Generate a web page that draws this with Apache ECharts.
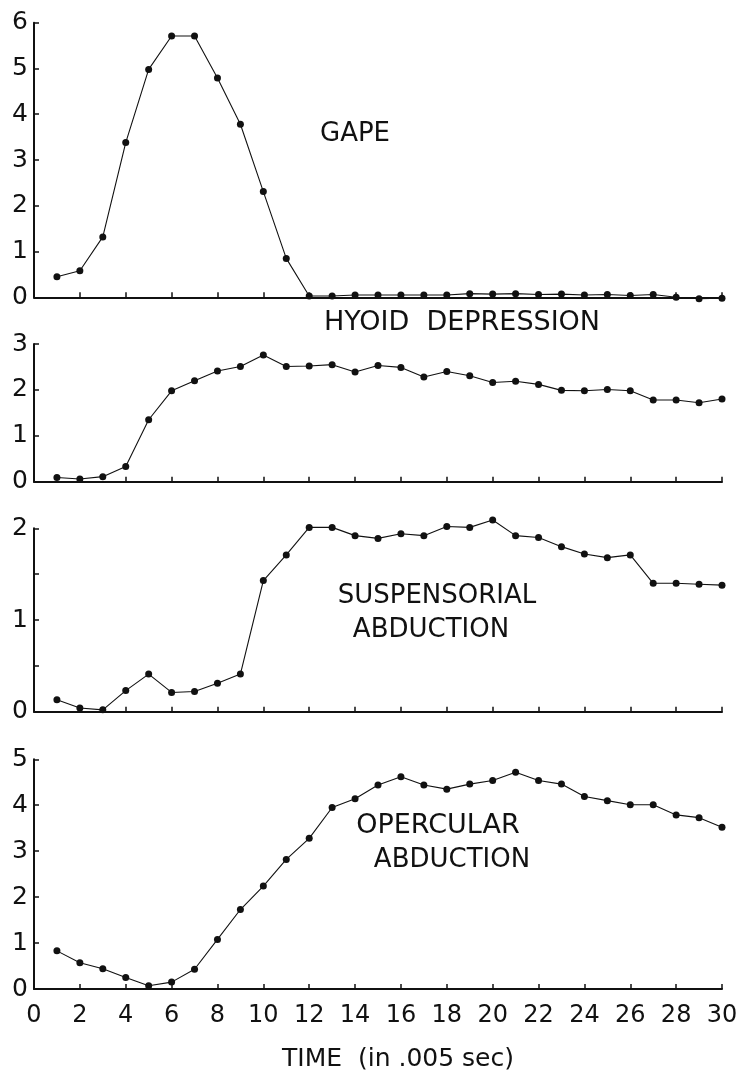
<!DOCTYPE html>
<html>
<head>
<meta charset="utf-8">
<script src="https://cdn.jsdelivr.net/npm/echarts@6/dist/echarts.min.js"></script>
<style>
html,body{margin:0;padding:0;background:#fff;}
#chart{width:745px;height:1075px;}
</style>
</head>
<body>
<div id="chart"></div>
<script>
// ---- data ----
var time = [1,2,3,4,5,6,7,8,9,10,11,12,13,14,15,16,17,18,19,20,21,22,23,24,25,26,27,28,29,30];
var gape = [0.45,0.58,1.32,3.38,4.98,5.71,5.71,4.79,3.78,2.31,0.85,0.03,0.03,0.05,0.05,0.05,0.05,0.05,0.08,0.07,0.08,0.06,0.07,0.05,0.06,0.04,0.06,0.0,-0.03,-0.02];
var hyoidDepression = [0.09,0.06,0.11,0.33,1.35,1.98,2.2,2.41,2.51,2.76,2.51,2.52,2.55,2.39,2.53,2.49,2.28,2.4,2.31,2.16,2.19,2.12,1.99,1.98,2.01,1.98,1.78,1.78,1.72,1.8];
var suspensorialAbduction = [0.13,0.04,0.02,0.23,0.41,0.21,0.22,0.31,0.41,1.43,1.71,2.01,2.01,1.92,1.89,1.94,1.92,2.02,2.01,2.09,1.92,1.9,1.8,1.72,1.68,1.71,1.4,1.4,1.39,1.38];
var opercularAbduction = [0.83,0.57,0.44,0.25,0.07,0.15,0.43,1.08,1.73,2.24,2.82,3.28,3.95,4.14,4.44,4.62,4.44,4.35,4.46,4.54,4.72,4.54,4.46,4.19,4.1,4.01,4.01,3.79,3.73,3.52];
var panelLabels = ['GAPE', 'HYOID  DEPRESSION', 'SUSPENSORIAL', 'ABDUCTION', 'OPERCULAR', 'ABDUCTION'];
var xTitle = 'TIME  (in .005 sec)';
var yMax = [6, 3, 2, 5];
var yInterval = [1, 1, 0.5, 1];
var xMin = 0, xMax = 30, xInterval = 2;

// ---- chart ----
var INK = '#111';
var FONT = 'DejaVu Sans';
var grids = [
  {left: 34, width: 688, top: 22.7, height: 274.6},
  {left: 34, width: 688, top: 344, height: 137.7},
  {left: 34, width: 688, top: 528.3, height: 183.4},
  {left: 34, width: 688, top: 759.3, height: 229.7}
];
var seriesData = [gape, hyoidDepression, suspensorialAbduction, opercularAbduction];

function pairs(arr){ return time.map(function(t,i){ return [t, arr[i]]; }); }

var xAxes = [], yAxes = [], series = [];
for (var i = 0; i < 4; i++) {
  xAxes.push({
    type: 'value', gridIndex: i, min: xMin, max: xMax, interval: xInterval,
    axisLine: {show: true, lineStyle: {color: INK, width: 2}},
    axisTick: {show: true, inside: true, length: 5, lineStyle: {color: INK, width: 1.5}},
    axisLabel: {show: i === 3, color: INK, fontFamily: FONT, fontSize: 24, margin: 15},
    splitLine: {show: false}
  });
  yAxes.push({
    type: 'value', gridIndex: i, min: 0, max: yMax[i], interval: yInterval[i],
    axisLine: {show: true, lineStyle: {color: INK, width: 2}},
    axisTick: {show: true, inside: true, length: 5, lineStyle: {color: INK, width: 1.5}},
    axisLabel: {show: true, color: INK, fontFamily: FONT, fontSize: 25, margin: 6,
      formatter: function(v){ return (Math.abs(v - Math.round(v)) < 1e-9) ? String(Math.round(v)) : ''; }},
    splitLine: {show: false}
  });
  series.push({
    type: 'line', xAxisIndex: i, yAxisIndex: i, data: pairs(seriesData[i]),
    symbol: 'circle', symbolSize: 7, clip: false, animation: false,
    lineStyle: {color: INK, width: 1.1},
    itemStyle: {color: INK}
  });
}

function label(text, cx, cy, size){
  return {type: 'text', x: cx, y: cy, style: {text: text, fill: INK, font: size + 'px "' + FONT + '"', textAlign: 'center', textVerticalAlign: 'middle'}};
}

var chart = echarts.init(document.getElementById('chart'), null, {renderer: 'canvas'});
chart.setOption({
  animation: false,
  backgroundColor: '#fff',
  grid: grids,
  xAxis: xAxes,
  yAxis: yAxes,
  series: series,
  graphic: [
    label(panelLabels[0], 355, 134, 26),
    label(panelLabels[1], 462, 323, 27),
    label(panelLabels[2], 437, 596, 26),
    label(panelLabels[3], 431, 630, 26),
    label(panelLabels[4], 438, 826, 27),
    label(panelLabels[5], 452, 860, 26),
    label(xTitle, 398, 1059, 25)
  ]
});
</script>
</body>
</html>
